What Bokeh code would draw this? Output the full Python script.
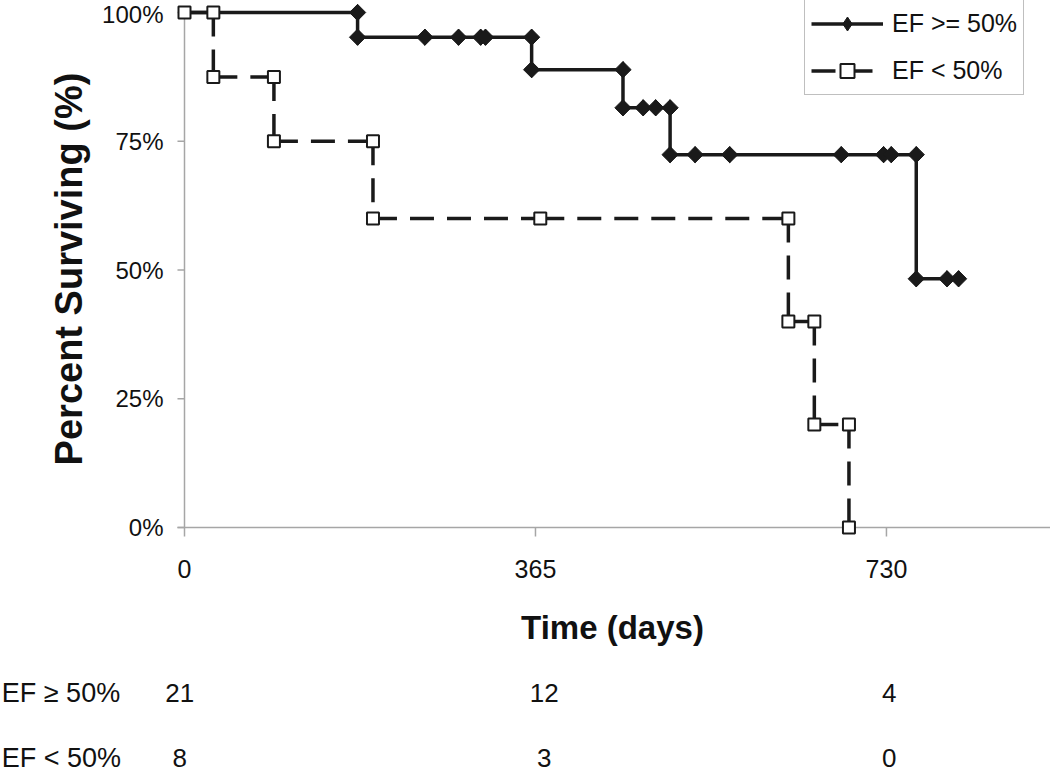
import numpy as np
from bokeh.plotting import figure
from bokeh.layouts import column
from bokeh.models import Range1d, FixedTicker, Legend, LegendItem
from bokeh.core.properties import value
from bokeh.embed import file_html
from bokeh.resources import INLINE

# ---- data ----
ef_high_days = [0, 180, 180, 250, 285, 308, 313, 361, 361, 456, 456, 477, 490, 505,
                505, 531, 567, 683, 727, 735, 761, 761, 793, 805]
ef_high_surv = [100, 100, 95.2, 95.2, 95.2, 95.2, 95.2, 95.2, 88.9, 88.9, 81.5, 81.5,
                81.5, 81.5, 72.4, 72.4, 72.4, 72.4, 72.4, 72.4, 72.4, 48.3, 48.3, 48.3]
ef_low_days = [0, 30, 30, 93, 93, 196, 196, 370, 628, 628, 655, 655, 691, 691]
ef_low_surv = [100, 100, 87.5, 87.5, 75, 75, 60, 60, 60, 40, 40, 20, 20, 0]

series_names = ["EF >= 50%", "EF < 50%"]
x_ticks = [0, 365, 730]
y_ticks = [0, 25, 50, 75, 100]
y_tick_labels = ["0%", "25%", "50%", "75%", "100%"]

risk_groups = ["EF \u2265 50%", "EF < 50%"]
risk_high = [21, 12, 4]
risk_low = [8, 3, 0]

# ---- layout / style constants ----
FONT = "Liberation Sans"
INK = "#1a1a1a"
TXT = "#111111"
AXIS = "#a6a6a6"
X0, X1 = -10.4, 900.6          # visible day range of the main frame
Y0, Y1 = -1.94, 102.33         # visible % range of the main frame
YTICK_LEN = 7.3                # y tick length (days)
XTICK_LEN = 1.75               # x tick length (%)
risk_label_x = [-5, 374, 733]  # at-risk numbers positions (days)
risk_name_x = -190
risk_row_y = [32, 97]          # rows in the lower strip (px from its top)

p = figure(width=1050, height=660,
           x_range=Range1d(X0, X1), y_range=Range1d(Y0, Y1),
           output_backend="svg", toolbar_location=None,
           min_border_left=174, min_border_right=0, min_border_top=0,
           min_border_bottom=123)
p.frame_align = False
p.outline_line_color = None
p.xgrid.visible = False
p.ygrid.visible = False
p.background_fill_color = "white"
p.border_fill_color = "white"

for ax in (p.xaxis[0], p.yaxis[0]):
    ax.axis_line_color = None
    ax.major_tick_line_color = None
    ax.minor_tick_line_color = None
    ax.major_tick_in = 0
    ax.major_tick_out = 0
    ax.major_label_text_font = FONT
    ax.major_label_text_color = TXT
    ax.axis_label_text_font = FONT
    ax.axis_label_text_font_style = "bold"
    ax.axis_label_text_color = TXT

p.xaxis.ticker = FixedTicker(ticks=x_ticks)
p.xaxis.major_label_standoff = 22
p.xaxis.major_label_text_font_size = "25px"
p.xaxis.axis_label = "Time (days)"
p.xaxis.axis_label_text_font_size = "33px"
p.xaxis.axis_label_standoff = 28

p.yaxis.ticker = FixedTicker(ticks=y_ticks)
p.yaxis.major_label_overrides = {float(t): l for t, l in zip(y_ticks, y_tick_labels)}
p.yaxis.major_label_standoff = 11
p.yaxis.major_label_text_font_size = "24px"
p.yaxis.axis_label = "Percent Surviving (%)"
p.yaxis.axis_label_text_font_size = "38px"
p.yaxis.axis_label_standoff = 9

# axis lines and ticks drawn at day 0 / 0 %
p.segment(x0=[0], y0=[0], x1=[0], y1=[100], line_color=AXIS, line_width=1.5)
p.segment(x0=[-YTICK_LEN], y0=[0], x1=[X1], y1=[0], line_color=AXIS, line_width=1.5)
p.segment(x0=[-YTICK_LEN] * len(y_ticks), y0=y_ticks, x1=[0] * len(y_ticks), y1=y_ticks,
          line_color=AXIS, line_width=1.5)
p.segment(x0=x_ticks, y0=[0] * len(x_ticks), x1=x_ticks, y1=[-XTICK_LEN] * len(x_ticks),
          line_color=AXIS, line_width=1.5)

# EF >= 50% : solid line with filled diamonds
l1 = p.line(ef_high_days, ef_high_surv, line_width=3.5, line_color=INK)
m1_key = p.scatter(ef_high_days[1:], ef_high_surv[1:], marker="diamond", size=16,
                   fill_color=INK, line_color=INK)
p.scatter(ef_high_days[1:], ef_high_surv[1:], marker="square", angle=np.pi / 4,
          size=11.5, fill_color=INK, line_color=INK)

# EF < 50% : dashed steps (each segment restarts its dash) with open squares
seg_x = [[a, b] for a, b in zip(ef_low_days[:-1], ef_low_days[1:])]
seg_y = [[a, b] for a, b in zip(ef_low_surv[:-1], ef_low_surv[1:])]
l2 = p.multi_line(seg_x, seg_y, line_width=3.5, line_color=INK, line_dash="24 13")
m2 = p.scatter(ef_low_days, ef_low_surv, marker="square", size=12,
               fill_color="white", line_color=INK, line_width=2)

legend = Legend(items=[LegendItem(label=series_names[0], renderers=[l1, m1_key]),
                       LegendItem(label=series_names[1], renderers=[l2, m2])],
                location=(630, 442), orientation="vertical",
                label_text_font=FONT, label_text_font_size="25px",
                label_text_color=TXT,
                glyph_width=72, glyph_height=35, label_height=34,
                label_standoff=9, spacing=12, padding=6, margin=0,
                border_line_color="#808080", border_line_width=1,
                background_fill_color="white", background_fill_alpha=1)
p.add_layout(legend, "center")

# ---- numbers at risk strip (frame spans the full width) ----
px_per_day = 876 / (X1 - X0)
q = figure(width=1050, height=111,
           x_range=Range1d(X0 - 174 / px_per_day, X1), y_range=Range1d(111, 0),
           output_backend="svg", toolbar_location=None,
           min_border_left=0, min_border_right=0, min_border_top=0, min_border_bottom=0)
q.frame_align = False
q.axis.visible = False
q.grid.visible = False
q.outline_line_color = None
q.background_fill_color = "white"
q.border_fill_color = "white"

for row, counts in enumerate([risk_high, risk_low]):
    q.text(x=[risk_name_x], y=[risk_row_y[row]], text=[risk_groups[row]],
           text_font=value(FONT), text_font_size="27px", text_color=TXT,
           text_align="left", text_baseline="middle")
    q.text(x=risk_label_x, y=[risk_row_y[row]] * len(counts), text=[str(c) for c in counts],
           text_font=value(FONT), text_font_size="26px", text_color=TXT,
           text_align="center", text_baseline="middle")

layout = column(p, q, spacing=0)
open("out.html", "w").write(file_html(layout, INLINE))
